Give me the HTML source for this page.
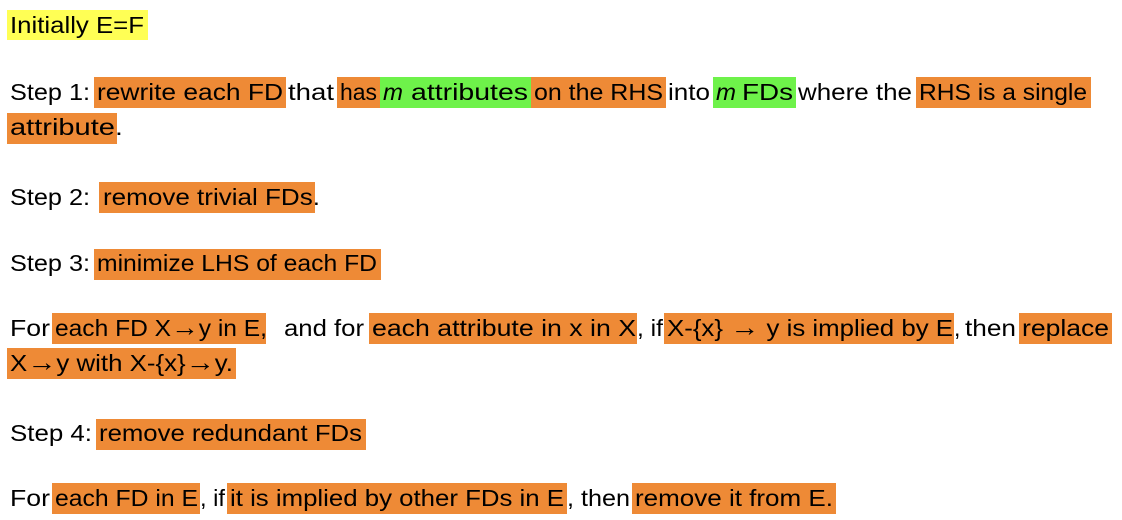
<!DOCTYPE html>
<html><head><meta charset="utf-8"><style>
html,body{margin:0;padding:0;background:#fff;}
svg{display:block}
text{font-family:"Liberation Sans",sans-serif;font-size:23px;fill:#000}
.o{fill:#EE8A36}.y{fill:#FFFF55}.g{fill:#6EF24A}
.a{font-weight:bold;font-size:26px}
</style></head><body>
<svg width="1122" height="520" viewBox="0 0 1122 520">
<rect class="y" x="7" y="10" width="141" height="30"/>
<text x="10" y="33" textLength="134" lengthAdjust="spacingAndGlyphs">Initially E=F</text>

<rect class="o" x="94" y="77" width="192" height="31"/>
<rect class="o" x="337" y="77" width="43" height="31"/>
<rect class="g" x="380" y="77" width="151" height="31"/>
<rect class="o" x="531" y="77" width="135" height="31"/>
<rect class="g" x="713" y="77" width="83" height="31"/>
<rect class="o" x="916" y="77" width="175" height="31"/>
<text x="10" y="100" textLength="80" lengthAdjust="spacingAndGlyphs">Step 1:</text>
<text x="97" y="100" textLength="186" lengthAdjust="spacingAndGlyphs">rewrite each FD</text>
<text x="288" y="100" textLength="46" lengthAdjust="spacingAndGlyphs">that</text>
<text x="340" y="100" textLength="37" lengthAdjust="spacingAndGlyphs">has</text>
<text x="383" y="100" font-style="italic" textLength="20" lengthAdjust="spacingAndGlyphs">m</text>
<text x="411" y="100" textLength="117" lengthAdjust="spacingAndGlyphs">attributes</text>
<text x="534" y="100" textLength="129" lengthAdjust="spacingAndGlyphs">on the RHS</text>
<text x="668" y="100" textLength="42" lengthAdjust="spacingAndGlyphs">into</text>
<text x="716" y="100" font-style="italic" textLength="20" lengthAdjust="spacingAndGlyphs">m</text>
<text x="742" y="100" textLength="51" lengthAdjust="spacingAndGlyphs">FDs</text>
<text x="798" y="100" textLength="114" lengthAdjust="spacingAndGlyphs">where the</text>
<text x="919" y="100" textLength="168" lengthAdjust="spacingAndGlyphs">RHS is a single</text>

<rect class="o" x="7" y="113" width="110" height="31"/>
<text x="10" y="135" textLength="113" lengthAdjust="spacingAndGlyphs">attribute.</text>

<rect class="o" x="99" y="182" width="216" height="31"/>
<text x="10" y="205" textLength="80" lengthAdjust="spacingAndGlyphs">Step 2:</text>
<text x="103" y="205" textLength="217" lengthAdjust="spacingAndGlyphs">remove trivial FDs.</text>

<rect class="o" x="94" y="249" width="287" height="31"/>
<text x="10" y="271" textLength="80" lengthAdjust="spacingAndGlyphs">Step 3:</text>
<text x="97" y="271" textLength="280" lengthAdjust="spacingAndGlyphs">minimize LHS of each FD</text>

<rect class="o" x="52" y="313" width="214" height="31"/>
<rect class="o" x="369" y="313" width="268" height="31"/>
<rect class="o" x="664" y="313" width="290" height="31"/>
<rect class="o" x="1019" y="313" width="93" height="31"/>
<text x="10" y="336" textLength="40" lengthAdjust="spacingAndGlyphs">For</text>
<text x="55" y="336" textLength="212" lengthAdjust="spacingAndGlyphs">each FD X<tspan class="a">→</tspan>y  in E,</text>
<text x="284" y="336" textLength="80" lengthAdjust="spacingAndGlyphs">and for</text>
<text x="372" y="336" textLength="264" lengthAdjust="spacingAndGlyphs">each attribute in x in X</text>
<text x="637" y="336" textLength="26" lengthAdjust="spacingAndGlyphs">, if</text>
<text x="667" y="336" textLength="286" lengthAdjust="spacingAndGlyphs">X-{x} <tspan class="a">→</tspan> y is implied by E</text>
<text x="954" y="336">,</text>
<text x="965" y="336" textLength="51" lengthAdjust="spacingAndGlyphs">then</text>
<text x="1022" y="336" textLength="87" lengthAdjust="spacingAndGlyphs">replace</text>

<rect class="o" x="7" y="348" width="229" height="31"/>
<text x="10" y="371" textLength="223" lengthAdjust="spacingAndGlyphs">X<tspan class="a">→</tspan>y with X-{x}<tspan class="a">→</tspan>y.</text>

<rect class="o" x="96" y="419" width="270" height="31"/>
<text x="10" y="441" textLength="82" lengthAdjust="spacingAndGlyphs">Step 4:</text>
<text x="99" y="441" textLength="263" lengthAdjust="spacingAndGlyphs">remove redundant FDs</text>

<rect class="o" x="52" y="483" width="148" height="31"/>
<rect class="o" x="227" y="483" width="340" height="31"/>
<rect class="o" x="632" y="483" width="204" height="31"/>
<text x="10" y="506" textLength="40" lengthAdjust="spacingAndGlyphs">For</text>
<text x="55" y="506" textLength="143" lengthAdjust="spacingAndGlyphs">each FD in E</text>
<text x="200" y="506" textLength="25" lengthAdjust="spacingAndGlyphs">, if</text>
<text x="230" y="506" textLength="334" lengthAdjust="spacingAndGlyphs">it is implied by other FDs in E</text>
<text x="567" y="506" textLength="63" lengthAdjust="spacingAndGlyphs">, then</text>
<text x="635" y="506" textLength="198" lengthAdjust="spacingAndGlyphs">remove it from E.</text>
</svg>
</body></html>
